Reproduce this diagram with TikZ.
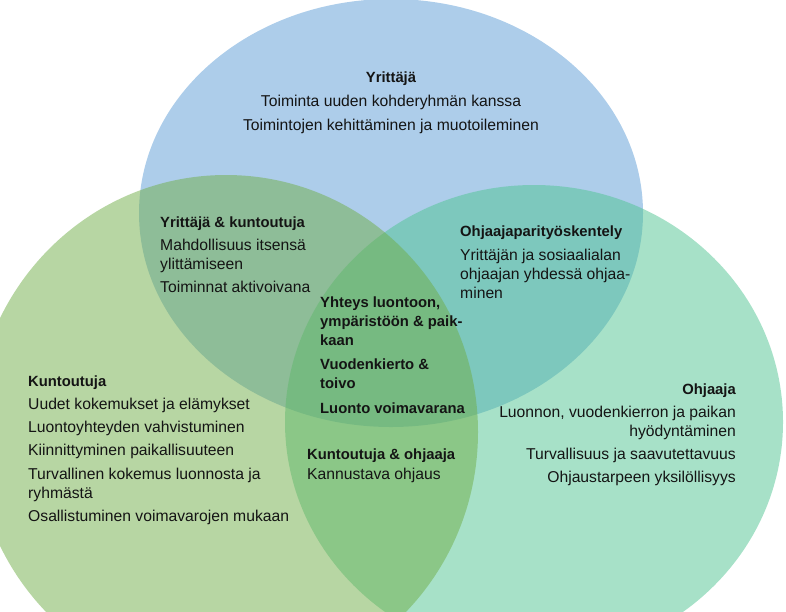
\documentclass[tikz,border=0pt]{standalone}
\usepackage{fontspec}
\setmainfont{Liberation Sans}
\usepackage{tikz}

\definecolor{yblue}{RGB}{91,155,213}
\definecolor{kgreen}{RGB}{112,173,71}
\definecolor{omint}{RGB}{80,196,146}

\newcommand{\otsikko}[1]{{\fontsize{14.8}{19}\selectfont\bfseries #1}}

\tikzset{
  venn/.style={fill opacity=.5, draw=none},
  txt/.style={inner sep=0pt, align=left, anchor=north west,
    font=\fontsize{15.7}{19}\selectfont, text=black!92},
}

\begin{document}
\begin{tikzpicture}[x=1pt,y=-1pt]

    \useasboundingbox (0,0) rectangle (786,611);
    \clip (0,0) rectangle (786,611);

    % the three circles
    \fill[yblue, venn] (391,213) ellipse [x radius=252pt, y radius=214pt];
    \fill[omint, venn] (534,422) ellipse [x radius=249pt, y radius=237pt];
    \fill[kgreen, venn] (226,432) ellipse [x radius=252pt, y radius=257pt];

    \node[txt, anchor=north, align=center] (y) at (391,72)
      {\otsikko{Yrittäjä}\\[5pt] Toiminta uuden kohderyhmän kanssa\\[5pt] Toimintojen kehittäminen ja muotoileminen};
    \node[txt] (yk) at (160,217)
      {\otsikko{Yrittäjä \& kuntoutuja}\\[4pt] Mahdollisuus itsensä\\ ylittämiseen\\[4pt] Toiminnat aktivoivana};
    \node[txt] (pari) at (460,226)
      {\otsikko{Ohjaajaparityöskentely}\\[5pt] Yrittäjän ja sosiaalialan\\ ohjaajan yhdessä ohjaa-\\ minen};
    \node[txt, font=\fontsize{14.8}{19}\selectfont\bfseries] (kaikki) at (320,297)
      {Yhteys luontoon,\\ ympäristöön \& paik-\\ kaan\\[5pt] Vuodenkierto \&\\ toivo\\[6pt] Luonto voimavarana};
    \node[txt] (k) at (28,376)
      {\otsikko{Kuntoutuja}\\[4pt] Uudet kokemukset ja elämykset\\[4pt] Luontoyhteyden vahvistuminen\\[4pt] Kiinnittyminen paikallisuuteen\\[5pt] Turvallinen kokemus luonnosta ja\\ ryhmästä\\[4pt] Osallistuminen voimavarojen mukaan};
    \node[txt, anchor=north east, align=right] (o) at (736,384)
      {\otsikko{Ohjaaja}\\[4pt] Luonnon, vuodenkierron ja paikan\\ hyödyntäminen\\[4pt] Turvallisuus ja saavutettavuus\\[4pt] Ohjaustarpeen yksilöllisyys};
    \node[txt] (ko) at (307,449)
      {\otsikko{Kuntoutuja \& ohjaaja}\\[1pt] Kannustava ohjaus};

  \end{tikzpicture}
\end{document}
